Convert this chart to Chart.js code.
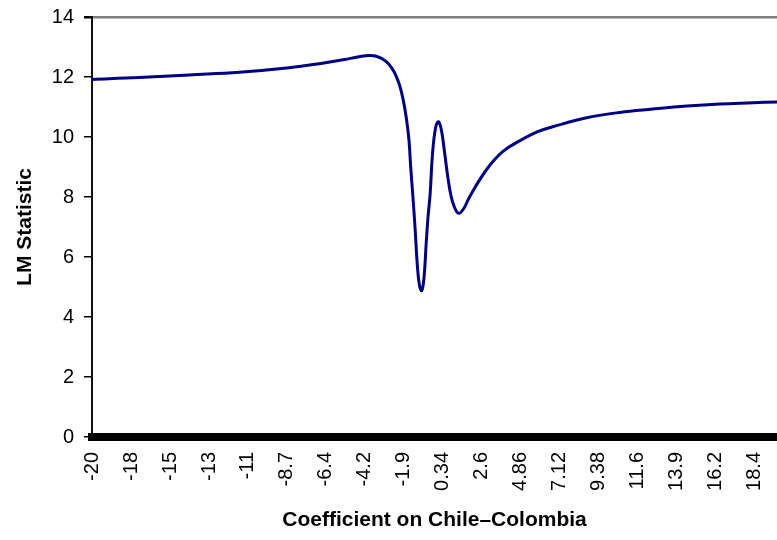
<!DOCTYPE html>
<html>
<head>
<meta charset="utf-8">
<script src="https://cdn.jsdelivr.net/npm/chart.js@4"></script>
<style>
  html, body { margin: 0; padding: 0; background: #fff; overflow: hidden; }
  #wrap { width: 777px; height: 540px; position: relative; }
</style>
</head>
<body>
<div id="wrap"><canvas id="lmChart"></canvas></div>
<script>
// coefficient values and LM statistic
const COEF = [-20, -17.27, -14.37, -11.47, -8.57, -6.65, -5.37, -4.68, -4.10, -3.52, -2.94, -2.55, -2.36, -2.15, -1.96,
  -1.78, -1.63, -1.53, -1.40, -1.28, -1.14, -1.02, -0.89, -0.76, -0.63, -0.53, -0.40, -0.27, -0.09, 0.08, 0.26, 0.43,
  0.72, 0.95, 1.24, 1.53, 1.88, 2.85, 3.80, 4.78, 5.83, 6.70, 8.67, 10.59, 12.50, 14.47, 16.39, 18.31, 19.70];
const LM = [11.92, 11.98, 12.07, 12.16, 12.31, 12.46, 12.58, 12.66, 12.71, 12.69, 12.51, 12.23, 12.01, 11.68, 11.23,
  10.62, 9.9, 9.0, 8.0, 7.0, 5.68, 5.05, 4.88, 5.3, 6.47, 7.3, 8.13, 9.4, 10.3, 10.51, 10.2, 9.5,
  8.3, 7.75, 7.46, 7.6, 8.0, 8.9, 9.51, 9.87, 10.18, 10.34, 10.64, 10.82, 10.93, 11.03, 11.1, 11.14, 11.17];

// category ticks shown on the x axis
const X_TICKS = [-20, -17.74, -15.48, -13.22, -10.96, -8.7, -6.44, -4.18, -1.92, 0.34, 2.6, 4.86, 7.12, 9.38, 11.64, 13.9, 16.16, 18.42];
const X_TICK_LABELS = ['-20', '-18', '-15', '-13', '-11', '-8.7', '-6.4', '-4.2', '-1.9', '0.34', '2.6', '4.86', '7.12', '9.38', '11.6', '13.9', '16.2', '18.4'];

const FONT = 'Liberation Sans, Arial, sans-serif';

const ctx = document.getElementById('lmChart').getContext('2d');
new Chart(ctx, {
    type: 'line',
    data: {
        datasets: [{
            data: COEF.map((x, i) => ({ x, y: LM[i] })),
            borderColor: '#000080',
            borderWidth: 3,
            pointRadius: 0,
            fill: false,
            tension: 0.4
        }]
    },
    options: {
        responsive: true, maintainAspectRatio: false, animation: false,
        layout: { padding: { top: 17, right: 0, left: 0, bottom: 0 } },
        plugins: { legend: { display: false }, tooltip: { enabled: false } },
        scales: {
            x: {
                type: 'linear', min: -20, max: 19.7,
                afterBuildTicks: s => { s.ticks = X_TICKS.map(v => ({ value: v })); },
                afterFit: s => { s.height = 103; s.paddingLeft = 0; s.paddingRight = 0; },
                grid: { color: 'transparent', drawTicks: false },
                border: { display: true, color: '#000', width: 8 },
                ticks: {
                    color: '#000', font: { family: FONT, size: 20 }, padding: 15,
                    minRotation: 90, maxRotation: 90, autoSkip: false,
                    callback: (v, i) => X_TICK_LABELS[i]
                },
                title: { display: true, text: 'Coefficient on Chile–Colombia', color: '#000',
                    font: { family: FONT, size: 21, weight: 'bold' }, padding: { top: 0, bottom: 7 } }
            },
            y: {
                min: 0, max: 14,
                afterFit: s => { s.width = 92; s.paddingTop = 0; s.paddingBottom = 0; },
                grid: {
                    color: c => c.tick && c.tick.value === 14 ? '#808080' : 'transparent',
                    lineWidth: c => c.tick && c.tick.value === 14 ? 2.5 : 1.5,
                    tickColor: '#000', tickLength: 8
                },
                border: { display: true, color: '#111', width: 2 },
                ticks: { stepSize: 2, color: '#000', font: { family: FONT, size: 20 }, padding: 10 },
                title: { display: true, text: 'LM Statistic', color: '#000',
                    font: { family: FONT, size: 21, weight: 'bold' }, padding: { top: 13, bottom: 0 } }
            }
        }
    }
});
</script>
</body>
</html>
